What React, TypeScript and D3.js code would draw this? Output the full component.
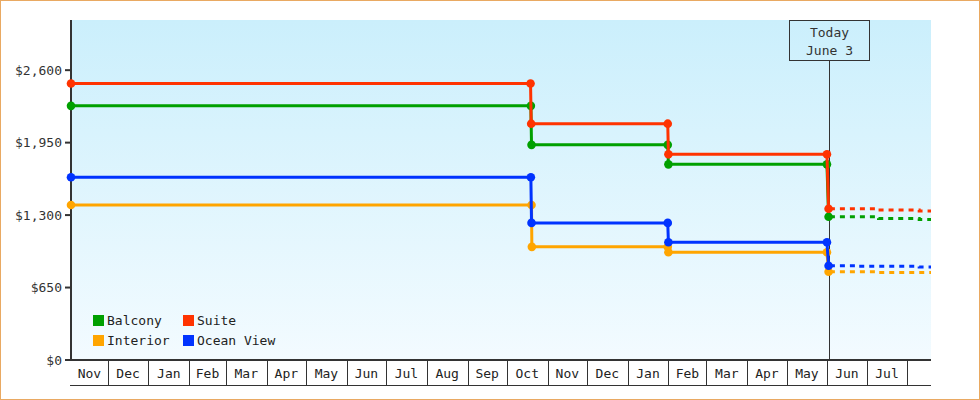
import { useEffect, useRef } from "react";
import * as d3 from "d3";

// cabin fares over time: [date, price]
const balcony: [string, number][] = [
  ["2022-11-03 00", 2280], ["2023-10-19 06", 2280], ["2023-10-19 18", 1930],
  ["2024-01-31 12", 1930], ["2024-02-01 00", 1755], ["2024-05-31 18", 1755], ["2024-06-02 00", 1285]
];
const suite: [string, number][] = [
  ["2022-11-03 00", 2480], ["2023-10-19 00", 2480], ["2023-10-19 12", 2120],
  ["2024-01-31 12", 2120], ["2024-02-01 00", 1845], ["2024-05-31 18", 1845], ["2024-06-02 00", 1357]
];
const interior: [string, number][] = [
  ["2022-11-03 00", 1390], ["2023-10-19 18", 1390], ["2023-10-20 00", 1015],
  ["2024-01-31 12", 1015], ["2024-02-01 00", 966], ["2024-05-31 18", 966], ["2024-06-02 00", 792]
];
const oceanView: [string, number][] = [
  ["2022-11-03 00", 1640], ["2023-10-19 06", 1640], ["2023-10-19 18", 1230],
  ["2024-01-31 12", 1230], ["2024-02-01 00", 1056], ["2024-05-31 18", 1056], ["2024-06-02 00", 846]
];

// projected fares after today
const balconyProj: [string, number][] = [["2024-06-03 00", 1285], ["2024-07-10 00", 1270], ["2024-08-10 00", 1261], ["2024-08-19 00", 1261]];
const suiteProj: [string, number][] = [["2024-06-03 00", 1357], ["2024-07-10 00", 1345], ["2024-08-10 00", 1336], ["2024-08-19 00", 1336]];
const interiorProj: [string, number][] = [["2024-06-03 00", 792], ["2024-07-10 00", 786], ["2024-08-19 00", 786]];
const oceanViewProj: [string, number][] = [["2024-06-03 00", 846], ["2024-06-25 00", 840], ["2024-08-10 00", 834], ["2024-08-19 00", 834]];

const seriesNames = ["Balcony", "Interior", "Suite", "Ocean View"];
const seriesColors = ["#00a000", "#ffa500", "#ff3300", "#0033ff"];
const seriesData = [balcony, interior, suite, oceanView];
const seriesProj = [balconyProj, interiorProj, suiteProj, oceanViewProj];
const legendOrder = ["Balcony", "Suite", "Interior", "Ocean View"];

const yTicks = [0, 650, 1300, 1950, 2600];
const xStart = "2022-11-03 00";
const xEnd = "2024-08-19 00";
const today = "2024-06-03 00";
const todayLabel = ["Today", "June 3"];

const FONT = "'DejaVu Sans Mono', monospace";

export default function App() {
  const svgRef = useRef<SVGSVGElement | null>(null);

  useEffect(() => {
    const W = 980, H = 400;
    const margin = { top: 20, right: 49, bottom: 40, left: 71 };
    const parse = d3.timeParse("%Y-%m-%d %H");

    const svg = d3.select(svgRef.current).attr("width", W).attr("height", H);
    svg.selectAll("*").remove();

    const x = d3.scaleTime()
      .domain([parse(xStart)!, parse(xEnd)!])
      .range([margin.left, W - margin.right]);
    const y = d3.scaleLinear().domain([0, 3050]).range([H - margin.bottom, margin.top]);
    const y0 = y(0);

    // background
    const grad = svg.append("defs").append("linearGradient")
      .attr("id", "bg").attr("x1", 0).attr("y1", 0).attr("x2", 0).attr("y2", 1);
    grad.append("stop").attr("offset", "0%").attr("stop-color", "#cbeffc");
    grad.append("stop").attr("offset", "100%").attr("stop-color", "#f3fbff");

    svg.append("rect").attr("x", 0.5).attr("y", 0.5).attr("width", W - 1).attr("height", H - 1)
      .attr("fill", "#fff").attr("stroke", "#e9a962");

    svg.append("rect")
      .attr("x", margin.left).attr("y", margin.top)
      .attr("width", W - margin.right - margin.left).attr("height", y0 - margin.top)
      .attr("fill", "url(#bg)");

    // y axis
    const yAxis = svg.append("g");
    yAxis.append("line").attr("x1", margin.left).attr("x2", margin.left)
      .attr("y1", margin.top).attr("y2", y0 + 1).attr("stroke", "#333").attr("stroke-width", 2);
    yAxis.selectAll("line.tick").data(yTicks).join("line").attr("class", "tick")
      .attr("x1", margin.left - 6).attr("x2", margin.left)
      .attr("y1", d => y(d)).attr("y2", d => y(d))
      .attr("stroke", "#333").attr("stroke-width", 2);
    yAxis.selectAll("text").data(yTicks).join("text")
      .attr("x", margin.left - 9).attr("y", d => y(d)).attr("dy", "0.35em")
      .attr("text-anchor", "end").attr("fill", "#333")
      .style("font-family", FONT).style("font-size", "13px")
      .text(d => "$" + d3.format(",")(d));

    // x axis: month cells
    const [d0, d1] = x.domain();
    const monthStarts = d3.timeMonth.range(d3.timeMonth.ceil(d0), d1);
    const bounds = [d0, ...monthStarts, d1];
    const cells = d3.pairs(bounds);
    const xAxis = svg.append("g");
    xAxis.append("line").attr("x1", margin.left - 1).attr("x2", W - margin.right)
      .attr("y1", y0).attr("y2", y0).attr("stroke", "#333").attr("stroke-width", 2);
    xAxis.append("line").attr("x1", margin.left - 1).attr("x2", W - margin.right)
      .attr("y1", y0 + 25.5).attr("y2", y0 + 25.5).attr("stroke", "#333").attr("stroke-width", 1);
    xAxis.selectAll("line.sep").data(monthStarts).join("line").attr("class", "sep")
      .attr("x1", d => Math.round(x(d)) + 0.5).attr("x2", d => Math.round(x(d)) + 0.5)
      .attr("y1", y0).attr("y2", y0 + 25)
      .attr("stroke", "#333").attr("stroke-width", 1);
    xAxis.selectAll("text").data(cells.filter(([a, b]) => x(b) - x(a) > 30)).join("text")
      .attr("x", ([a, b]) => (x(a) + x(b)) / 2).attr("y", y0 + 18)
      .attr("text-anchor", "middle").attr("fill", "#222")
      .style("font-family", FONT).style("font-size", "13px")
      .text(([a]) => d3.timeFormat("%b")(a));

    // today marker
    const tx = Math.floor(x(parse(today)!)) + 0.5;
    svg.append("line").attr("x1", tx).attr("x2", tx).attr("y1", 60).attr("y2", y0)
      .attr("stroke", "#333").attr("stroke-width", 1);
    svg.append("rect").attr("x", tx - 40).attr("y", margin.top + 0.5).attr("width", 80).attr("height", 40)
      .attr("fill", "none").attr("stroke", "#333").attr("stroke-width", 1);
    svg.selectAll("text.today").data(todayLabel).join("text").attr("class", "today")
      .attr("x", tx).attr("y", (_, i) => 37 + i * 18)
      .attr("text-anchor", "middle").attr("fill", "#333")
      .style("font-family", FONT).style("font-size", "13px")
      .text(d => d);

    // series
    const line = d3.line<[string, number]>()
      .x(d => x(parse(d[0])!)).y(d => y(d[1]));
    const stepLine = d3.line<[string, number]>()
      .x(d => x(parse(d[0])!)).y(d => y(d[1])).curve(d3.curveStepAfter);

    seriesData.forEach((data, i) => {
      const color = seriesColors[i];
      svg.append("path").datum(seriesProj[i]).attr("d", stepLine)
        .attr("fill", "none").attr("stroke", color).attr("stroke-width", 3)
        .attr("stroke-dasharray", "5 5");
      svg.append("path").datum(data).attr("d", line)
        .attr("fill", "none").attr("stroke", color).attr("stroke-width", 3);
      svg.append("g").selectAll("circle").data(data).join("circle")
        .attr("cx", d => x(parse(d[0])!)).attr("cy", d => y(d[1])).attr("r", 4.3)
        .attr("fill", color);
    });

    // legend
    const legend = svg.append("g").attr("transform", "translate(93,315)");
    legendOrder.forEach((name, i) => {
      const c = seriesColors[seriesNames.indexOf(name)];
      const g = legend.append("g").attr("transform", `translate(${(i % 2) * 90},${Math.floor(i / 2) * 20})`);
      g.append("rect").attr("width", 11).attr("height", 11).attr("fill", c);
      g.append("text").attr("x", 14).attr("y", 10).attr("fill", "#222")
        .style("font-family", FONT).style("font-size", "13px").text(name);
    });
  }, []);

  return (
    <div style={{ position: "absolute", left: 0, top: 0 }}>
      <svg ref={svgRef}></svg>
    </div>
  );
}
